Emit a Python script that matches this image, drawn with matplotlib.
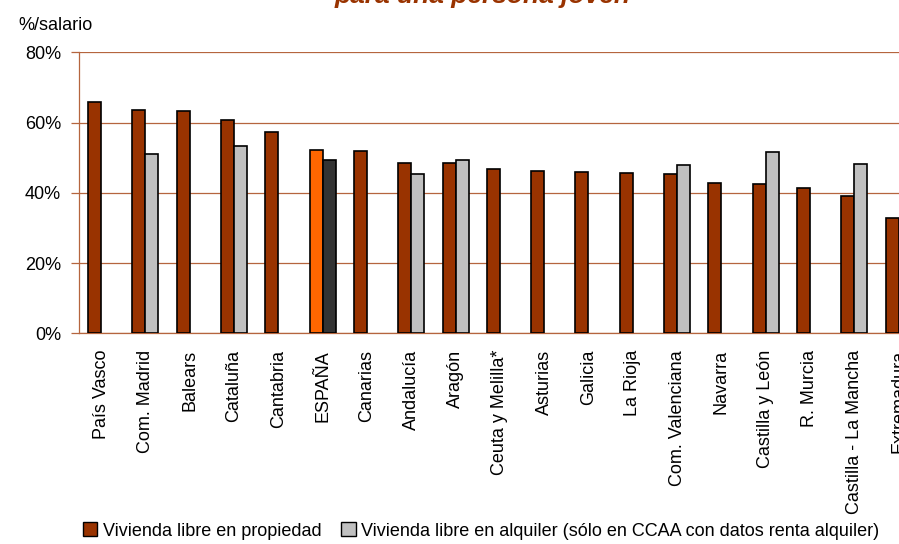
import matplotlib
matplotlib.use("Agg")
import matplotlib.pyplot as plt
import numpy as np
from matplotlib.patches import Patch
from matplotlib.ticker import FuncFormatter

plt.rcParams['font.family'] = ['Liberation Sans', 'DejaVu Sans']

categories = ["País Vasco", "Com. Madrid", "Balears", "Cataluña", "Cantabria", "ESPAÑA",
              "Canarias", "Andalucía", "Aragón", "Ceuta y Melilla*", "Asturias", "Galicia",
              "La Rioja", "Com. Valenciana", "Navarra", "Castilla y León", "R. Murcia",
              "Castilla - La Mancha", "Extremadura"]
propiedad = [65.9, 63.5, 63.3, 60.6, 57.2, 52.3, 52.0, 48.6, 48.5, 46.8, 46.2, 46.0,
             45.7, 45.4, 42.7, 42.5, 41.5, 39.2, 32.9]
alquiler = [np.nan, 51.1, np.nan, 53.3, np.nan, 49.2, np.nan, 45.4, 49.4, np.nan, np.nan,
            np.nan, np.nan, 47.8, np.nan, 51.5, np.nan, 48.2, np.nan]
yticks = [0, 20, 40, 60, 80]
title_text = "para una persona joven"
ylabel_text = "%/salario"
legend_labels = ["Vivienda libre en propiedad",
                 "Vivienda libre en alquiler (sólo en CCAA con datos renta alquiler)"]

BROWN = "#993300"
GREY = "#C0C0C0"
ORANGE = "#FF6600"
DARK = "#333333"
GRID = "#B5653E"

fig = plt.figure(figsize=(8.99, 5.44), dpi=100)
ax = fig.add_axes([79/899, (544-333.3)/544, 1 - 79/899, (333.3-52.3)/544])

x = np.arange(len(categories))
w = 0.293
esp = categories.index("ESPAÑA")
col1 = [ORANGE if i == esp else BROWN for i in range(len(categories))]
col2 = [DARK if i == esp else GREY for i in range(len(categories))]
ax.bar(x - w/2, propiedad, w, color=col1, edgecolor="black", linewidth=1.2, zorder=3)
ax.bar(x + w/2, alquiler, w, color=col2, edgecolor="black", linewidth=1.2, zorder=3)

ax.set_xlim(-0.5, 18.01)
ax.set_ylim(0, 80)
ax.set_yticks(yticks)
ax.yaxis.set_major_formatter(FuncFormatter(lambda v, p: f"{int(v)}%"))
ax.grid(axis="y", color=GRID, linewidth=0.9, zorder=0)
ax.set_axisbelow(True)
for s in ["top", "right"]:
    ax.spines[s].set_visible(False)
ax.spines["left"].set_color(GRID)
ax.spines["bottom"].set_color(GRID)
ax.spines["left"].set_linewidth(0.9)
ax.spines["bottom"].set_linewidth(0.9)
ax.tick_params(axis="y", length=5.5, width=0.9, color=GRID, pad=7.5, labelsize=13)
ax.set_xticks(x)
ax.set_xticklabels(categories, rotation=90, fontsize=13)
ax.tick_params(axis="x", length=0, pad=12)

fig.text(18/899, 1 - 30/544, ylabel_text, fontsize=13, va="baseline", ha="left")
fig.text(483/899, 1 - 3/544, title_text, fontsize=19, fontweight="bold", fontstyle="italic",
         color=BROWN, ha="center", va="baseline")

handles = [Patch(facecolor=BROWN, edgecolor="black", linewidth=1.0),
           Patch(facecolor=GREY, edgecolor="black", linewidth=1.0)]
fig.legend(handles, legend_labels, loc="center left", bbox_to_anchor=(83/899, 1 - 531/544),
           ncol=2, frameon=False, fontsize=13, handlelength=0.8, handleheight=0.8,
           handletextpad=0.3, columnspacing=1.1, borderpad=0, borderaxespad=0)

fig.savefig("out.png", dpi=100)
